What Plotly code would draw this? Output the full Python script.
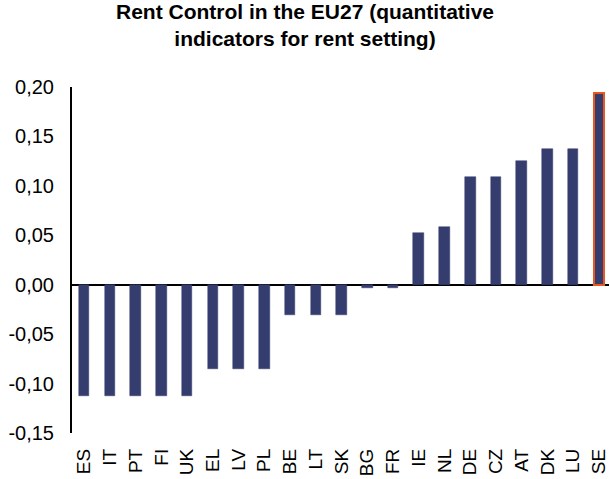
import plotly.graph_objects as go

countries = ["ES", "IT", "PT", "FI", "UK", "EL", "LV", "PL", "BE", "LT", "SK", "BG", "FR",
             "IE", "NL", "DE", "CZ", "AT", "DK", "LU", "SE"]
values = [-0.113, -0.113, -0.113, -0.113, -0.113, -0.085, -0.085, -0.085, -0.031, -0.031, -0.031,
          -0.003, -0.003, 0.052, 0.058, 0.109, 0.109, 0.125, 0.137, 0.137, 0.194]
y_ticks = [-0.15, -0.10, -0.05, 0.00, 0.05, 0.10, 0.15, 0.20]
y_tick_labels = ["-0,15", "-0,10", "-0,05", "0,00", "0,05", "0,10", "0,15", "0,20"]
title_text = "<b>Rent Control in the EU27 (quantitative<br>indicators for rent setting)</b>"

navy = "#353C6E"
line_colors = [navy] * (len(countries) - 1) + ["#E8581E"]
line_widths = [0.5] * (len(countries) - 1) + [2]

fig = go.Figure(go.Bar(
    x=countries, y=values, width=0.41,
    marker=dict(color=navy, line=dict(color=line_colors, width=line_widths)),
))

fig.update_layout(
    width=609, height=479,
    margin=dict(l=72, r=0, t=87, b=46),
    paper_bgcolor="white", plot_bgcolor="white",
    font=dict(family="Liberation Sans, Arial, sans-serif", color="black"),
    showlegend=False,
    bargap=0,
    annotations=[dict(text=title_text, xref="paper", yref="paper", x=0.433, y=1.257,
                      xanchor="center", yanchor="top", showarrow=False,
                      font=dict(size=21, color="black"))],
)
fig.update_yaxes(range=[-0.15, 0.20], tickvals=y_ticks, ticktext=y_tick_labels,
                 showgrid=False, showline=True, linecolor="black", linewidth=2,
                 zeroline=True, zerolinecolor="black", zerolinewidth=2,
                 ticks="", tickfont=dict(size=20), ticklabelstandoff=12)
fig.update_xaxes(range=[-0.47, 20.39], showgrid=False, showline=False, ticks="",
                 tickangle=-90, tickfont=dict(size=19), ticklabelstandoff=11)

fig.write_html("out.html", config={"displayModeBar": False},
               post_script="document.body.style.margin='0';")
